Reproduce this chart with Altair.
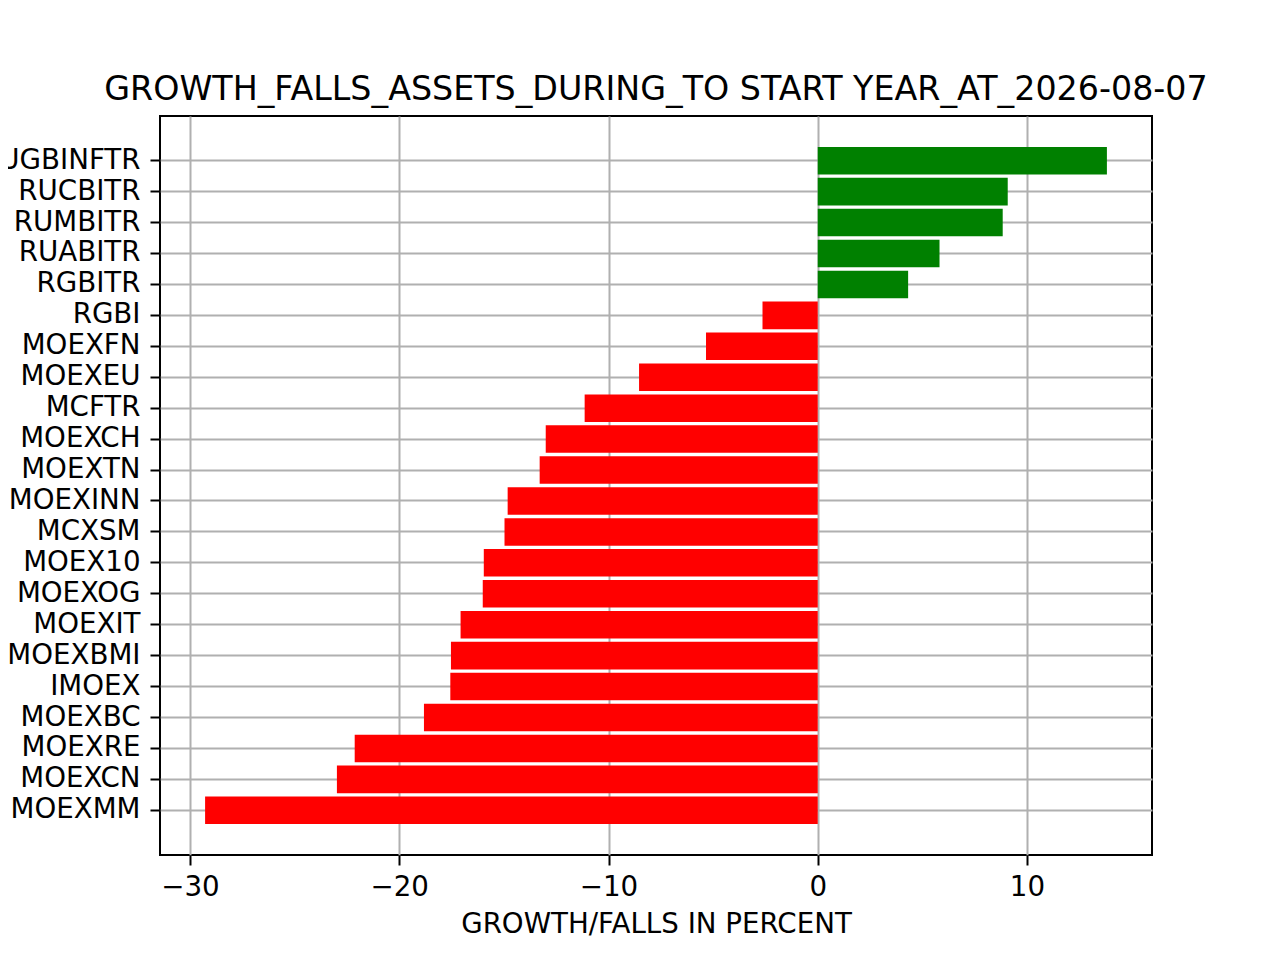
import altair as alt
import pandas as pd

names = ["RUGBINFTR", "RUCBITR", "RUMBITR", "RUABITR", "RGBITR", "RGBI",
         "MOEXFN", "MOEXEU", "MCFTR", "MOEXCH", "MOEXTN", "MOEXINN",
         "MCXSM", "MOEX10", "MOEXOG", "MOEXIT", "MOEXBMI", "IMOEX",
         "MOEXBC", "MOEXRE", "MOEXCN", "MOEXMM"]
values = [13.82, 9.08, 8.84, 5.82, 4.32, -2.64,
          -5.34, -8.54, -11.14, -13.0, -13.29, -14.82,
          -14.97, -15.96, -16.01, -17.07, -17.53, -17.56,
          -18.82, -22.13, -22.98, -29.28]
x_ticks = [-30, -20, -10, 0, 10]

title_text = "GROWTH_FALLS_ASSETS_DURING_TO START YEAR_AT_2026-08-07"
x_title = "GROWTH/FALLS IN PERCENT"

df = pd.DataFrame({"name": names, "value": values})

lo = min(min(values), 0)
hi = max(max(values), 0)
margin = 0.05 * (hi - lo)
domain = [lo - margin, hi + margin]

FONT = "DejaVu Sans"

chart = (
    alt.Chart(df)
    .transform_calculate(c="datum.value >= 0 ? 'green' : 'red'")
    .mark_bar()
    .encode(
        y=alt.Y(
            "name:N",
            sort=names,
            scale=alt.Scale(paddingInner=0.11, paddingOuter=1),
            axis=alt.Axis(title=None, bandPosition=0.5, labelPadding=10),
        ),
        x=alt.X(
            "value:Q",
            scale=alt.Scale(domain=domain, nice=False, zero=False),
            axis=alt.Axis(values=x_ticks, title=x_title, labelPadding=8,
                          titlePadding=10, labelFlush=False),
        ),
        x2=alt.datum(0),
        color=alt.Color("c:N", scale=None),
    )
    .properties(
        width=992,
        height=739,
        autosize=alt.AutoSizeParams(type="none"),
        padding={"left": 152, "top": 108, "right": 120, "bottom": 100},
        title=alt.TitleParams(
            text=title_text,
            font=FONT,
            fontSize=33.3,
            fontWeight="normal",
            color="black",
            anchor="middle",
            baseline="alphabetic",
            offset=-17,
        ),
    )
    .configure_view(stroke="black", strokeWidth=2)
    .configure_axis(
        grid=True,
        gridColor="#b0b0b0",
        gridWidth=2,
        domain=False,
        ticks=True,
        tickColor="black",
        tickWidth=2,
        tickSize=10,
        labelFont=FONT,
        labelFontSize=27.7,
        labelColor="black",
        titleFont=FONT,
        titleFontSize=27.7,
        titleFontWeight="normal",
        titleColor="black",
        zindex=1,
    )
)

chart.save("out.html", embed_options={"renderer": "svg", "actions": False})
